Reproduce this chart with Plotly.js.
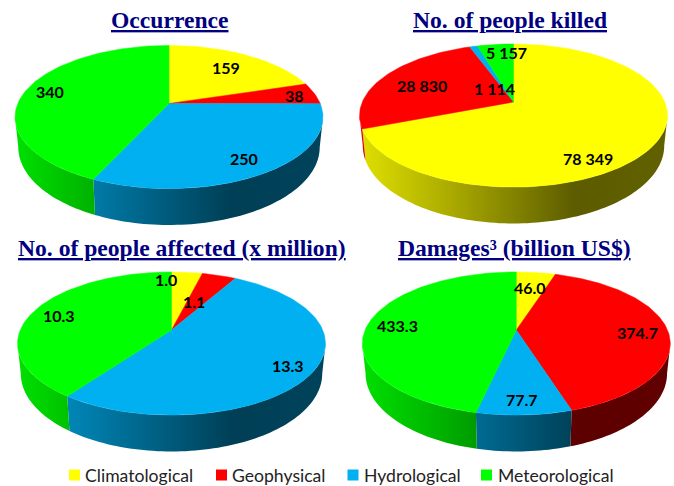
<!DOCTYPE html>
<html>
<head>
<meta charset="utf-8">
<script src="https://cdn.plot.ly/plotly-3.0.1.min.js"></script>
<style>html,body{margin:0;padding:0;background:#fff}#chart{width:674px;height:486px}</style>
</head>
<body>
<div id="chart"></div>
<script>
// ---- data ----
const categories = ['Climatological', 'Geophysical', 'Hydrological', 'Meteorological'];
const occurrence = [159, 38, 250, 340];
const killed = [78349, 28830, 1114, 5157];
const affected = [1.0, 1.1, 13.3, 10.3];
const damages = [46.0, 374.7, 77.7, 433.3];
const titles = ['Occurrence', 'No. of people killed', 'No. of people affected (x million)', 'Damages³ (billion US$)'];

// ---- styles and layout ----
const colors = [[255, 255, 0], [255, 0, 0], [0, 176, 240], [0, 255, 0]];
const shade = [[0, .88], [.25, .7], [.7, .36], [1, .38]];
const fmtSpace = v => String(v).replace(/\B(?=(\d{3})+$)/g, ' ');
const fmtOne = v => v.toFixed(1);
const pies = [
  {values: occurrence, fmt: fmtSpace, cx: 169, cy: 103.5, titleX: 169.5, titleY: 20,
   shiftX: [0, 23, 11, -18], shiftY: [-1, -1, 9, -2]},
  {values: killed, fmt: fmtSpace, cx: 513.5, cy: 102, titleX: 509.5, titleY: 20,
   shiftX: [-20, 0, 10, 6], shiftY: [27, 2, 27, -7]},
  {values: affected, fmt: fmtOne, cx: 171.5, cy: 330, titleX: 182, titleY: 248,
   shiftX: [-17, -12, 20, -16], shiftY: [-8, 11, 8, 0]},
  {values: damages, fmt: fmtOne, cx: 516.3, cy: 330, titleX: 514.5, titleY: 248,
   shiftX: [-1, 15, 1, -15], shiftY: [0, 2, 14, 1]}
];
const topView = {a: 151.2, b: 69, k: 0.189, dy: 0};
const lowView = {a: 148, b: 75, k: 0.189, dy: 29};
const sideFrom = 101, sideTo = 259, halfWidth = 154;
const legendX = [74.5, 221.5, 353, 486.5];
const legendTextX = [85, 232, 364, 498];
const legendY = 475;

const rad = d => d * Math.PI / 180;
function project(p, view, r, deg) {
  const u = r * Math.sin(rad(deg)), v = -r * Math.cos(rad(deg)), w = 1 - view.k * v;
  return [p.cx + view.a * u / w, p.cy + view.dy + view.b * v / w];
}
function arc(p, view, from, to) {
  const n = Math.max(2, Math.ceil(Math.abs(to - from) / 1.5)), pts = [];
  for (let i = 0; i <= n; i++) pts.push(project(p, view, 1, from + (to - from) * i / n));
  return pts;
}
const rgb = (c, m) => `rgb(${c.map(x => Math.round(x * m)).join(',')})`;

const traces = [], annotations = [];
pies.forEach(p => {
  const total = p.values.reduce((s, v) => s + v, 0);
  let acc = 0;
  const slices = p.values.map(v => {
    const s = {from: acc / total * 360, to: (acc + v) / total * 360};
    acc += v;
    return s;
  });
  // sides
  slices.forEach((s, i) => {
    const f = Math.max(s.from, sideFrom), t = Math.min(s.to, sideTo);
    if (t <= f) return;
    const pts = arc(p, topView, f, t).concat(arc(p, lowView, t, f));
    pts.push(pts[0]);
    traces.push({
      type: 'scatter', mode: 'none', x: pts.map(q => q[0]), y: pts.map(q => q[1]),
      fill: 'toself', hoverinfo: 'skip', showlegend: false,
      fillgradient: {type: 'horizontal', start: p.cx - halfWidth, stop: p.cx + halfWidth,
        colorscale: shade.map(([o, m]) => [o, rgb(colors[i], m)])}
    });
  });
  // top faces
  slices.forEach((s, i) => {
    const pts = [[p.cx, p.cy]].concat(arc(p, topView, s.from, s.to));
    pts.push(pts[0]);
    traces.push({
      type: 'scatter', mode: 'lines', x: pts.map(q => q[0]), y: pts.map(q => q[1]),
      fill: 'toself', fillcolor: rgb(colors[i], 1), line: {color: rgb(colors[i], 1), width: 0.5},
      hoverinfo: 'skip', showlegend: false
    });
    const at = project(p, topView, 0.7, (s.from + s.to) / 2);
    annotations.push({
      x: at[0], y: at[1], xref: 'x', yref: 'y', showarrow: false,
      xshift: p.shiftX[i], yshift: -p.shiftY[i], text: '<b>' + p.fmt(p.values[i]) + '</b>',
      font: {family: 'Lato', size: 16, color: '#000'}
    });
  });
});
pies.forEach((p, i) => annotations.push({
  x: p.titleX, y: p.titleY, xref: 'x', yref: 'y', showarrow: false,
  text: '<b><u>' + titles[i] + '</u></b>',
  font: {family: 'Liberation Serif', size: 23.6, color: '#000080'}
}));
categories.forEach((c, i) => {
  traces.push({
    type: 'scatter', mode: 'markers', x: [legendX[i]], y: [legendY], name: c,
    marker: {symbol: 'square', size: 11, color: rgb(colors[i], 1)},
    hoverinfo: 'skip', showlegend: false
  });
  annotations.push({
    x: legendTextX[i], y: legendY, xref: 'x', yref: 'y', xanchor: 'left', xshift: -2, showarrow: false,
    text: c, font: {family: 'Lato', size: 17.6, color: '#222'}
  });
});

Plotly.newPlot('chart', traces, {
  width: 674, height: 486, margin: {l: 0, r: 0, t: 0, b: 0},
  paper_bgcolor: '#fff', plot_bgcolor: '#fff', showlegend: false,
  xaxis: {range: [0, 674], visible: false, fixedrange: true},
  yaxis: {range: [486, 0], visible: false, fixedrange: true},
  annotations
}, {staticPlot: true, displayModeBar: false});
</script>
</body>
</html>
